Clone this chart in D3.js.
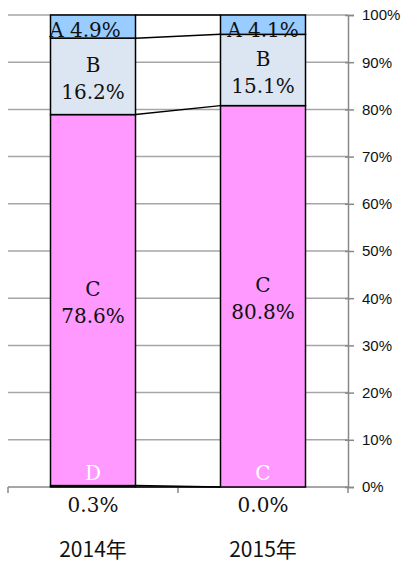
<!DOCTYPE html>
<html>
<head>
<meta charset="utf-8">
<script src="https://cdn.jsdelivr.net/npm/d3@7/dist/d3.min.js"></script>
<style>
  body { margin: 0; background: #fff; }
  svg { display: block; }
</style>
</head>
<body>
<script>
// categories and values (percent), bottom to top: D, C, B, A
var years = ["2014年", "2015年"];
var seriesNames = ["D", "C", "B", "A"];
var valuesD = [0.3, 0.0];
var valuesC = [78.6, 80.8];
var valuesB = [16.2, 15.1];
var valuesA = [4.9, 4.1];
// the text Excel put inside the bottom segment
var bottomNames = ["D", "C"];
var yTicks = [0, 10, 20, 30, 40, 50, 60, 70, 80, 90, 100];

var width = 404, height = 566;
// plot edges (not "top": that name is taken by window.top)
var plotL = 8, plotR = 348, plotT = 15, plotB = 487;

var colors = { A: "#99ccff", B: "#dce6f2", C: "#ff99ff", D: "#ff99ff" };

var rows = years.map(function (y, i) {
    return { year: y, D: valuesD[i], C: valuesC[i], B: valuesB[i], A: valuesA[i] };
});
var stacked = d3.stack().keys(seriesNames)(rows);

var x = d3.scaleBand()
    .domain(years)
    .range([plotL, plotR])
    .paddingInner(0.5)
    .paddingOuter(0.25);
var y = d3.scaleLinear().domain([0, 100]).range([plotB, plotT]);

var svg = d3.select("body").append("svg")
    .attr("width", width)
    .attr("height", height);

// gridlines
svg.append("g").selectAll("line")
    .data(yTicks.slice(1))
    .enter().append("line")
    .attr("x1", plotL).attr("x2", plotR)
    .attr("y1", function (d) { return y(d); })
    .attr("y2", function (d) { return y(d); })
    .attr("stroke", "#a6a6a6")
    .attr("stroke-width", 1.5);

// right axis
var yAxis = d3.axisRight(y)
    .tickValues(yTicks)
    .tickSize(6)
    .tickPadding(8)
    .tickFormat(function (d) { return d + "%"; });
var ya = svg.append("g")
    .attr("transform", "translate(" + plotR + ",0)")
    .call(yAxis);
ya.select(".domain").attr("stroke", "#888").attr("stroke-width", 1.5);
ya.selectAll(".tick line").attr("stroke", "#888").attr("stroke-width", 1.5).attr("x1", -3);
ya.selectAll(".tick text")
    .attr("fill", "#111")
    .style("font-family", "'Liberation Sans', Arial, sans-serif")
    .style("font-size", "15px");

// bottom axis line with ticks at band edges
var edges = [plotL, plotL + x.step(), plotR];
svg.append("line")
    .attr("x1", plotL).attr("x2", plotR)
    .attr("y1", plotB).attr("y2", plotB)
    .attr("stroke", "#888").attr("stroke-width", 1.5);
svg.append("g").selectAll("line")
    .data(edges)
    .enter().append("line")
    .attr("x1", function (d) { return d; })
    .attr("x2", function (d) { return d; })
    .attr("y1", plotB).attr("y2", plotB + 6)
    .attr("stroke", "#888").attr("stroke-width", 1.5);

// connector lines between bars
stacked.forEach(function (layer) {
    svg.append("line")
        .attr("x1", x(years[0]) + x.bandwidth())
        .attr("x2", x(years[1]))
        .attr("y1", y(layer[0][1]))
        .attr("y2", y(layer[1][1]))
        .attr("stroke", "#000")
        .attr("stroke-width", 1.5);
});
svg.append("line")
    .attr("x1", x(years[0]) + x.bandwidth())
    .attr("x2", x(years[1]))
    .attr("y1", y(0)).attr("y2", y(0))
    .attr("stroke", "#000").attr("stroke-width", 1.5);

// bars
svg.append("g").selectAll("g")
    .data(stacked)
    .enter().append("g")
    .attr("fill", function (d) { return colors[d.key]; })
    .selectAll("rect")
    .data(function (d) { return d; })
    .enter().append("rect")
    .attr("x", function (d) { return x(d.data.year); })
    .attr("y", function (d) { return y(d[1]); })
    .attr("width", x.bandwidth())
    .attr("height", function (d) { return y(d[0]) - y(d[1]); })
    .attr("stroke", "#000")
    .attr("stroke-width", 1.5);

// labels
var serif = "'DejaVu Serif', 'Liberation Serif', serif";
var labels = svg.append("g")
    .style("font-family", serif)
    .style("font-size", "20px")
    .attr("text-anchor", "middle")
    .attr("fill", "#111");

function fmt(v) { return v.toFixed(1) + "%"; }

stacked.forEach(function (layer) {
    layer.forEach(function (d, i) {
        var cx = x(d.data.year) + x.bandwidth() / 2;
        var mid = (y(d[0]) + y(d[1])) / 2;
        var v = d.data[layer.key];
        if (layer.key === "A") {
            labels.append("text").attr("x", cx - (i === 0 ? 8 : 0)).attr("y", y(100) + 22)
                .text("A " + fmt(v));
        } else if (layer.key === "D") {
            labels.append("text").attr("x", cx).attr("y", plotB - 7)
                .attr("fill", "#fff").text(bottomNames[i]);
            labels.append("text").attr("x", cx).attr("y", plotB + 25)
                .text(fmt(v));
        } else {
            labels.append("text").attr("x", cx).attr("y", mid - 4).text(layer.key);
            labels.append("text").attr("x", cx).attr("y", mid + 23).text(fmt(v));
        }
    });
});

// year labels
svg.append("g").selectAll("text")
    .data(years)
    .enter().append("text")
    .attr("x", function (d) { return x(d) + x.bandwidth() / 2; })
    .attr("y", 557)
    .attr("text-anchor", "middle")
    .style("font-family", "'Noto Sans CJK JP', sans-serif")
    .style("font-size", "21px")
    .attr("fill", "#111")
    .text(function (d) { return d; });
</script>
</body>
</html>
